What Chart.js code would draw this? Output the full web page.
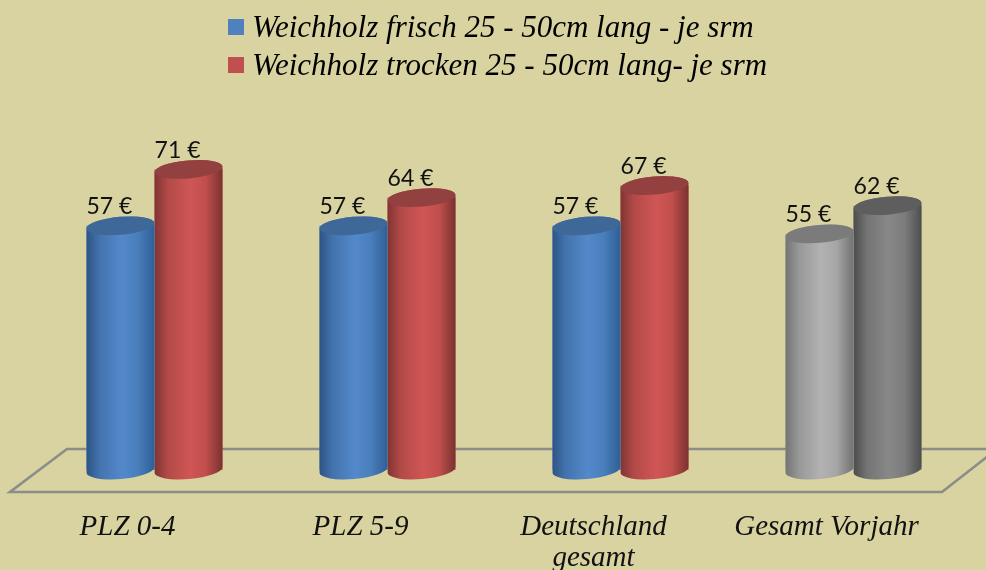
<!DOCTYPE html>
<html><head><meta charset="utf-8">
<script src="https://cdn.jsdelivr.net/npm/chart.js@4"></script>
<style>html,body{margin:0;padding:0;background:#d8d3a0;overflow:hidden}#w{position:relative;width:986px;height:570px}</style>
</head><body><div id="w"><canvas id="c" width="986" height="570"></canvas></div>
<script>
const categories = ["PLZ 0-4", "PLZ 5-9", ["Deutschland", "gesamt"], "Gesamt Vorjahr"];
const frisch = [57, 57, 57, 55];
const trocken = [71, 64, 67, 62];
const seriesNames = ["Weichholz frisch 25 - 50cm lang - je srm", "Weichholz trocken 25 - 50cm lang- je srm"];
const fill1 = ["#4f81bd", "#4f81bd", "#4f81bd", "#a6a6a6"];
const fill2 = ["#c0504d", "#c0504d", "#c0504d", "#7f7f7f"];
const legendColors = ["#4f81bd", "#c0504d"];
const shades = {
  "#4f81bd": ["#2d5486", "#4474ae", "#5388ca", "#4a7fbd", "#2f5f95", "#3d6898"],
  "#c0504d": ["#7f3533", "#b34a48", "#cf5654", "#c24f4d", "#7a3230", "#934040"],
  "#a6a6a6": ["#747474", "#989898", "#b2b2b2", "#a6a6a6", "#727272", "#7b7b7b"],
  "#7f7f7f": ["#4c4c4c", "#747474", "#888888", "#7c7c7c", "#4e4e4e", "#5e5e5e"]
};
const floorColor = "#8c8d88";
const FLOOR = {backY:-21, frontY:22, backX:67, frontL:10, frontR:942};
const base = -3.6;

const cylinders = {
  id: "cylinders",
  afterLayout(chart){
    chart.legend.left = 221.5;
    chart.legend.top = 6;
  },
  beforeDatasetsDraw(chart){
    const {ctx, chartArea:a} = chart;
    const back = a.bottom + FLOOR.backY, front = a.bottom + FLOOR.frontY;
    ctx.save();
    ctx.strokeStyle = floorColor; ctx.lineWidth = 2.6; ctx.lineJoin = "miter";
    ctx.beginPath();
    ctx.moveTo(986, back); ctx.lineTo(FLOOR.backX, back);
    ctx.lineTo(FLOOR.frontL, front); ctx.lineTo(FLOOR.frontR, front);
    ctx.lineTo(988, front - 36);
    ctx.stroke();
    ctx.restore();
  },
  afterDatasetDraw(chart, args){
    const {ctx} = chart;
    const ds = chart.data.datasets[args.index];
    const meta = args.meta;
    const rot = -0.085;
    meta.data.forEach((b, i) => {
      const s = shades[ds.backgroundColor[i]];
      const rx = b.width / 2, ry = 9;
      const l = b.x - rx, r = b.x + rx;
      const g = ctx.createLinearGradient(l, 0, r, 0);
      g.addColorStop(0, s[0]); g.addColorStop(.2, s[1]); g.addColorStop(.52, s[2]);
      g.addColorStop(.75, s[3]); g.addColorStop(1, s[4]);
      ctx.save();
      ctx.beginPath();
      ctx.ellipse(b.x, b.y, rx, ry, rot, Math.PI, 2 * Math.PI);
      ctx.ellipse(b.x, b.base, rx, ry, rot, 0, Math.PI);
      ctx.closePath();
      ctx.fillStyle = g; ctx.fill();
      ctx.beginPath();
      ctx.ellipse(b.x, b.y, rx, ry, rot, 0, 2 * Math.PI);
      ctx.fillStyle = s[5]; ctx.fill();
      ctx.fillStyle = "#111";
      ctx.font = '23px Lato';
      ctx.textAlign = "center"; ctx.textBaseline = "middle";
      ctx.fillText(ds.data[i] + " €", b.x - 11, b.y - 19);
      ctx.restore();
    });
  },
  afterDraw(chart){
    const {ctx} = chart;
    chart.legend.legendHitBoxes.forEach((h, i) => {
      ctx.fillStyle = legendColors[i];
      const left = 228, top = i === 0 ? 19 : 57;
      ctx.fillRect(left, top, 16, 16);
    });
  }
};

new Chart(document.getElementById("c"), {
  type: "bar",
  data: {
    labels: categories,
    datasets: [
      {label: seriesNames[0], data: frisch, backgroundColor: fill1, base: base},
      {label: seriesNames[1], data: trocken, backgroundColor: fill2, base: base}
    ]
  },
  options: {
    responsive: false, animation: false,
    categoryPercentage: 0.584, barPercentage: 1,
    layout: {padding: {left: 38, right: 16, top: 0, bottom: 0}},
    scales: {
      x: {
        grid: {display: false}, border: {display: false},
        afterFit(s){ s.height = 100; },
        ticks: {
          autoSkip: false, maxRotation: 0, minRotation: 0, padding: 34, labelOffset: -27, color: "#111",
          font: {family: "Liberation Serif", style: "italic", size: 29, lineHeight: 1.07}
        }
      },
      y: {display: false, min: base, max: 91.7}
    },
    plugins: {
      tooltip: {enabled: false},
      legend: {
        position: "top", align: "start",
        labels: {
          boxWidth: 8, boxHeight: 8, padding: 7, color: "#111",
          font: {family: "Liberation Serif", style: "italic", size: 31, lineHeight: 1.1},
          generateLabels(chart){
            return chart.data.datasets.map((d, i) => ({
              text: d.label, fillStyle: "rgba(0,0,0,0)", strokeStyle: "rgba(0,0,0,0)", lineWidth: 0, datasetIndex: i
            }));
          }
        }
      }
    }
  },
  plugins: [cylinders]
});
</script></body></html>
